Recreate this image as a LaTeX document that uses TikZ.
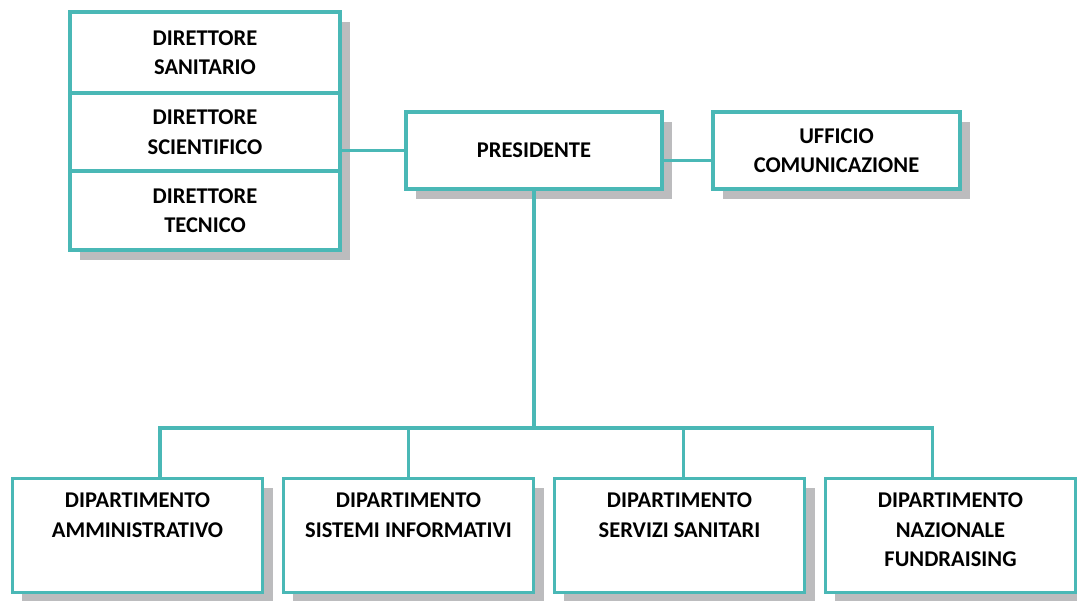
\documentclass[tikz,border=0pt]{standalone}
\usepackage{fontspec}
\setmainfont{Carlito}
\usepackage{tikz}
\usetikzlibrary{positioning,shadows}
\definecolor{orgteal}{RGB}{74,184,182}
\definecolor{orgshadow}{RGB}{188,188,190}

\tikzset{
  orgbox/.style={draw=orgteal, line width=2.3pt, fill=white, rectangle,
    drop shadow={shadow xshift=0.25cm, shadow yshift=-0.25cm, fill=orgshadow, opacity=1},
    align=center, font=\fontsize{16}{21}\selectfont\bfseries},
  link/.style={draw=orgteal, line width=2.4pt},
  depttext/.style={align=center, anchor=north, font=\fontsize{16}{21}\selectfont\bfseries}
}

\begin{document}
\begin{tikzpicture}[x=0.025cm, y=-0.025cm]
  \useasboundingbox (0,0) rectangle (1077,600);
  % Directors stack
  \node[orgbox, minimum width=6.75cm, minimum height=2.025cm] (dirSan) at (205,52.5) {DIRETTORE\\SANITARIO};
  \node[orgbox, minimum width=6.75cm, minimum height=1.95cm] (dirSci) at (205,132) {DIRETTORE\\SCIENTIFICO};
  \node[orgbox, minimum width=6.75cm, minimum height=1.975cm] (dirTec) at (205,210.5) {DIRETTORE\\TECNICO};
  % Top level
  \node[orgbox, minimum width=6.4cm, minimum height=1.925cm] (pres) at (534,150.5) {PRESIDENTE};
  \node[orgbox, minimum width=6.175cm, minimum height=1.925cm] (uff) at (836.5,150.5) {UFFICIO\\COMUNICAZIONE};
  % Departments
  \foreach \name/\cx in {dAmm/137.5, dSis/408.5, dSer/679.5, dFun/950.5} {
    \node[orgbox, minimum width=6.25cm, minimum height=2.85cm] (\name) at (\cx,535.5) {};
  }
  \node[depttext] (tAmm) at ([yshift=-0.28cm]dAmm.north) {DIPARTIMENTO\\AMMINISTRATIVO};
  \node[depttext] (tSis) at ([yshift=-0.28cm]dSis.north) {DIPARTIMENTO\\SISTEMI INFORMATIVI};
  \node[depttext] (tSer) at ([yshift=-0.28cm]dSer.north) {DIPARTIMENTO\\SERVIZI SANITARI};
  \node[depttext] (tFun) at ([yshift=-0.28cm]dFun.north) {DIPARTIMENTO\\NAZIONALE\\FUNDRAISING};
  % Connectors
  \coordinate (bus) at (534,428);
  \draw[link] (pres.west) -- (pres.west -| dirSci.east);
  \draw[link] ([yshift=-0.25cm]pres.east) -- ([yshift=-0.25cm]uff.west);
  \draw[link] (pres.south) -- (bus);
  \draw[link] ([xshift=0.5625cm]dAmm.north) |- (bus) -| ([xshift=-0.45cm]dFun.north);
  \draw[link] (dSis.north) -- (dSis.north |- bus);
  \draw[link] ([xshift=0.1cm]dSer.north) -- ([xshift=0.1cm]dSer.north |- bus);
\end{tikzpicture}
\end{document}
